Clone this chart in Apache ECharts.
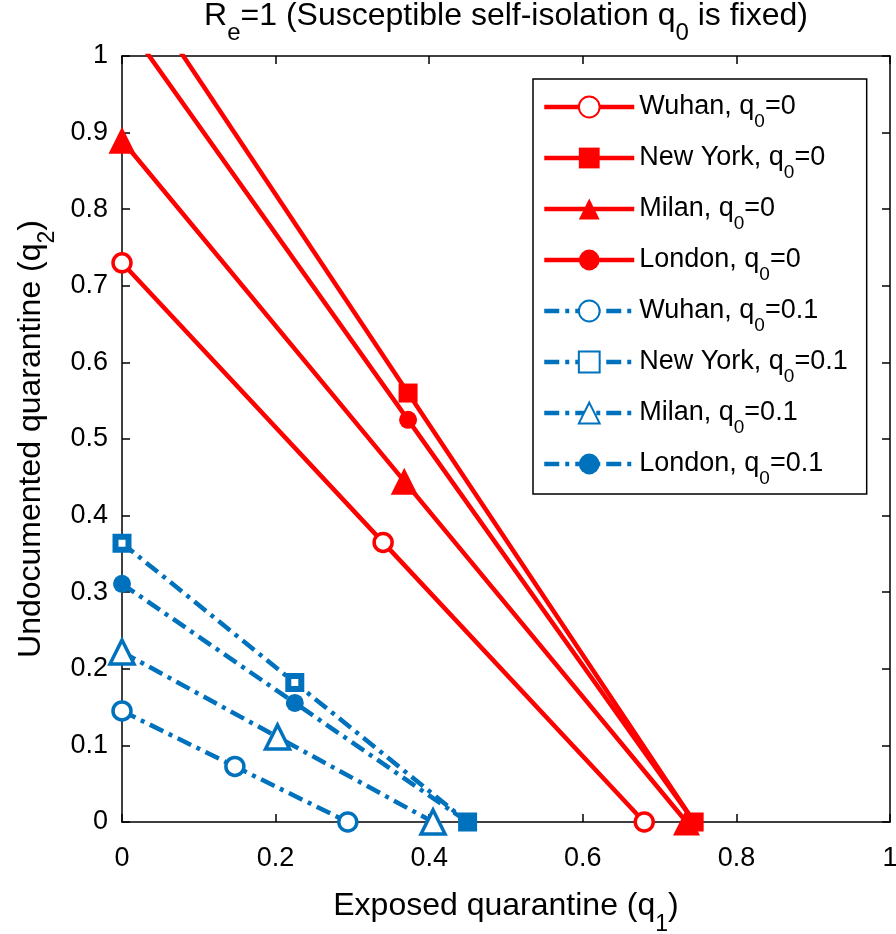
<!DOCTYPE html>
<html lang="en">
<head>
  <meta charset="UTF-8">
  <title>Re=1 quarantine</title>
  <script src="https://cdn.jsdelivr.net/npm/echarts@6/dist/echarts.min.js"></script>
  <style>
    body { margin: 0; background: #fff; }
  </style>
</head>
<body>
<div id="chart" style="width: 896px; height: 934px;"></div>

<script>
  var chart = echarts.init(document.getElementById('chart'));

  var FONT = '"Liberation Sans", Arial, sans-serif';
  var RED = '#ff0000';
  var BLUE = '#0072bd';

  // [q1, q2] points
  var wuhan0 = [[0, 0.73], [0.34, 0.365], [0.68, 0]];
  var newYork0 = [[0, 1.12], [0.3725, 0.56], [0.745, 0]];
  var milan0 = [[0, 0.89], [0.3675, 0.445], [0.735, 0]];
  var london0 = [[0, 1.05], [0.3725, 0.525], [0.745, 0]];
  var wuhan01 = [[0, 0.145], [0.147, 0.0725], [0.294, 0]];
  var newYork01 = [[0, 0.364], [0.225, 0.182], [0.45, 0]];
  var milan01 = [[0, 0.222], [0.2025, 0.111], [0.405, 0]];
  var london01 = [[0, 0.311], [0.225, 0.1555], [0.45, 0]];

  var seriesNames = [
    'Wuhan, q0=0', 'New York, q0=0', 'Milan, q0=0', 'London, q0=0',
    'Wuhan, q0=0.1', 'New York, q0=0.1', 'Milan, q0=0.1', 'London, q0=0.1'
  ];
  var seriesData = [wuhan0, newYork0, milan0, london0, wuhan01, newYork01, milan01, london01];

  // marker per city: circle (hollow), square, triangle, filled dot
  function marker(i, color, blue) {
    var k = i % 4;
    if (k === 0) return { symbol: 'circle', size: 18, item: { color: '#fff', borderColor: color, borderWidth: 3.5 } };
    if (k === 1) return blue
      ? { symbol: 'rect', size: 13, item: { color: '#fff', borderColor: color, borderWidth: 6 } }
      : { symbol: 'rect', size: 19, item: { color: color } };
    if (k === 2) return blue
      ? { symbol: 'triangle', size: 24, item: { color: '#fff', borderColor: color, borderWidth: 3.5 } }
      : { symbol: 'triangle', size: 27, item: { color: color } };
    return { symbol: 'circle', size: 18, item: { color: color } };
  }

  var series = seriesData.map(function (d, i) {
    var blue = i >= 4;
    var color = blue ? BLUE : RED;
    var m = marker(i, color, blue);
    return {
      name: seriesNames[i],
      type: 'line',
      data: d,
      symbol: m.symbol,
      symbolSize: m.size,
      showAllSymbol: true,
      clip: true,
      itemStyle: m.item,
      lineStyle: {
        color: color,
        width: 4.5,
        type: blue ? [15, 6, 4, 6] : 'solid'
      },
      emphasis: { disabled: true },
      animation: false
    };
  });

  // subscript: smaller text pushed down by top padding
  function subStyle(size, drop) {
    return { sub: { fontSize: size, fontFamily: FONT, color: '#000', lineHeight: size, padding: [drop, 0, 0, 0] } };
  }

  var tickAxis = {
    min: 0,
    max: 1,
    axisLine: { show: true, onZero: false, lineStyle: { color: '#000', width: 1.5 } },
    axisTick: { show: true, inside: true, length: 8, lineStyle: { color: '#000', width: 1.5 } },
    splitLine: { show: false }
  };

  var option = {
    backgroundColor: '#fff',
    animation: false,
    title: {
      text: 'R{sub|e}=1 (Susceptible self-isolation q{sub|0} is fixed)',
      left: 506,
      textAlign: 'center',
      top: -2,
      padding: 0,
      textStyle: {
        fontFamily: FONT,
        fontSize: 32,
        fontWeight: 'normal',
        color: '#000',
        lineHeight: 36,
        rich: subStyle(24, 35)
      }
    },
    grid: { left: 122, right: 6, top: 56, bottom: 112, containLabel: false, outerBoundsMode: 'none' },
    legend: {
      orient: 'vertical',
      left: 533,
      top: 79,
      padding: [4, 19, 6, 9],
      itemWidth: 90,
      itemHeight: 26,
      itemGap: 3,
      borderColor: '#000',
      borderWidth: 1.5,
      borderRadius: 0,
      backgroundColor: '#fff',
      data: seriesNames,
      lineStyle: { width: 4.5 },
      formatter: function (name) {
        return name.replace('q0', 'q{sub|0}');
      },
      textStyle: {
        fontFamily: FONT,
        fontSize: 27,
        color: '#000',
        lineHeight: 30,
        rich: subStyle(19, 29)
      }
    },
    xAxis: [
      Object.assign({}, tickAxis, {
        type: 'value',
        position: 'bottom',
        interval: 0.2,
        name: 'Exposed quarantine (q{sub|1})',
        nameLocation: 'middle',
        nameGap: 58,
        nameTextStyle: {
          fontFamily: FONT, fontSize: 32, color: '#000', lineHeight: 36,
          rich: subStyle(23, 36)
        },
        axisLabel: { fontFamily: FONT, fontSize: 27, color: '#000', margin: 23 }
      }),
      Object.assign({}, tickAxis, {
        type: 'value',
        position: 'top',
        interval: 0.2,
        axisLabel: { show: false }
      })
    ],
    yAxis: [
      Object.assign({}, tickAxis, {
        type: 'value',
        position: 'left',
        interval: 0.1,
        name: 'Undocumented quarantine (q{sub|2})',
        nameLocation: 'middle',
        nameGap: 65,
        nameRotate: 90,
        nameTextStyle: {
          fontFamily: FONT, fontSize: 32, color: '#000', lineHeight: 36,
          rich: subStyle(23, 34)
        },
        axisLabel: { fontFamily: FONT, fontSize: 27, color: '#000', margin: 14 }
      }),
      Object.assign({}, tickAxis, {
        type: 'value',
        position: 'right',
        interval: 0.1,
        axisLabel: { show: false }
      })
    ],
    series: series
  };

  chart.setOption(option);
</script>
</body>
</html>
